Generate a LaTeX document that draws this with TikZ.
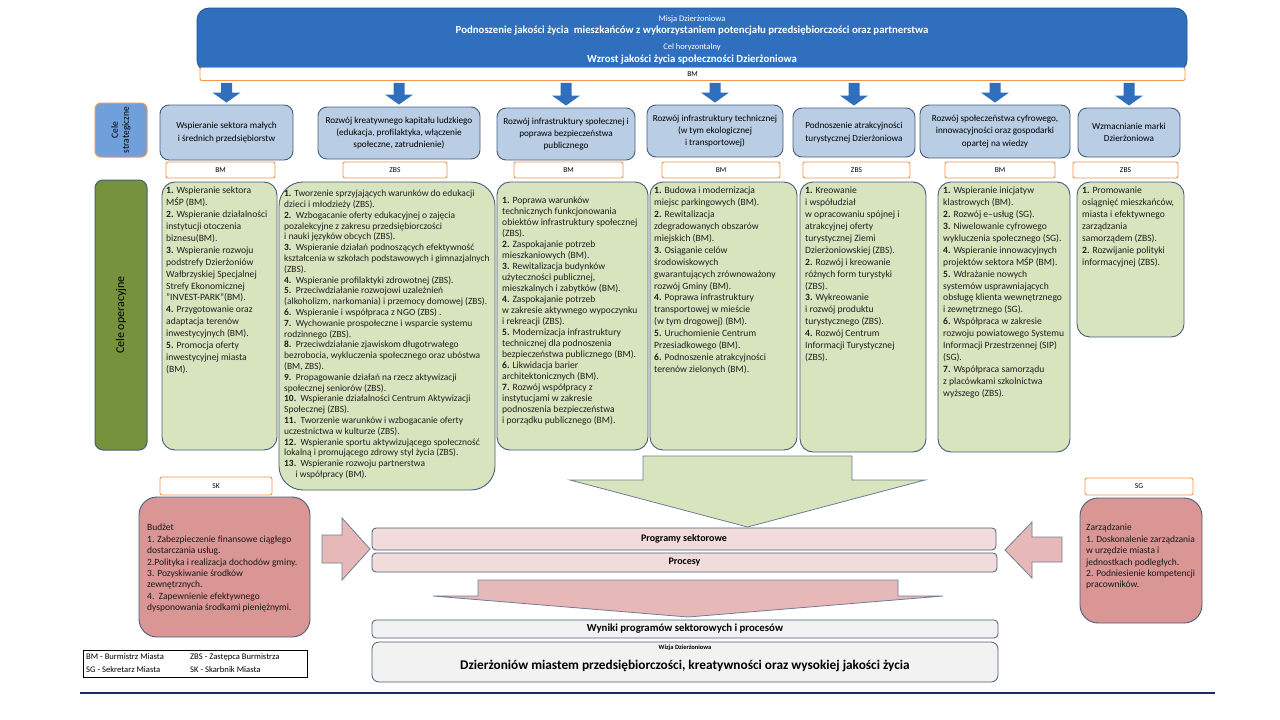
\documentclass[tikz,border=0pt]{standalone}
\usepackage{fontspec}
\setmainfont{Carlito}
\usetikzlibrary{positioning}

\definecolor{bannerblue}{RGB}{47,111,190}
\definecolor{stratfill}{RGB}{185,205,229}
\definecolor{boxline}{RGB}{72,94,122}
\definecolor{roleorange}{RGB}{247,150,70}
\definecolor{opfill}{RGB}{215,228,189}
\definecolor{celeblue}{RGB}{111,160,220}
\definecolor{celegreen}{RGB}{118,146,60}
\definecolor{pinklight}{RGB}{242,220,219}
\definecolor{pinkarrow}{RGB}{230,185,184}
\definecolor{redfill}{RGB}{217,150,148}
\definecolor{greyfill}{RGB}{242,242,242}
\definecolor{navyline}{RGB}{31,40,105}

\def\nr#1{\textbf{#1}}

\begin{document}
\begin{tikzpicture}[x=1pt, y=-1pt,
  bannertxt/.style={text=white, inner sep=0pt},
  stratbox/.style={draw=boxline, fill=stratfill, rounded corners=9pt, line width=0.9pt, align=center, inner sep=2pt, font=\fontsize{9.2}{12.4}\selectfont},
  rolebox/.style={draw=roleorange, fill=white, rounded corners=2pt, line width=0.9pt, inner sep=0pt, font=\fontsize{7.5}{8}\selectfont},
  opbox/.style={draw=boxline, fill=opfill, rounded corners=13pt, line width=0.9pt, inner sep=0pt},
  optext/.style={anchor=north west, align=left, inner sep=0pt, text=black!88, font=\fontsize{9.6}{11.9}\selectfont},
  pinkbox/.style={draw=boxline, fill=pinklight, rounded corners=4pt, line width=0.8pt, inner sep=0pt, font=\bfseries\fontsize{10}{12}\selectfont},
  greybox/.style={draw=boxline, fill=greyfill, rounded corners=4pt, line width=0.8pt, inner sep=0pt},
  redbox/.style={draw=boxline, fill=redfill, rounded corners=18pt, line width=0.9pt, inner sep=0pt},
  redtext/.style={anchor=north west, align=left, inner sep=0pt, text=black!90, font=\fontsize{9.5}{11.4}\selectfont},
  legtext/.style={anchor=west, inner sep=0pt, font=\fontsize{8.6}{10}\selectfont},
  blockarrow/.style={draw=boxline!80, line width=0.8pt, line join=miter}
]
\useasboundingbox (0,0) rectangle (1280,720);
\fill[white] (0,0) rectangle (1280,720);

% misja
\node[draw=bannerblue!75!black, fill=bannerblue, rounded corners=12pt, line width=0.8pt, minimum width=990pt, minimum height=64pt, inner sep=0pt] (banner) at (692,40) {};
\node[bannertxt, font=\fontsize{8.5}{9}\selectfont] (misja) at (692,19) {Misja Dzierżoniowa};
\node[bannertxt, font=\bfseries\fontsize{10.8}{12}\selectfont] (misjatxt) at (692,31) {Podnoszenie jakości życia\ \ mieszkańców z wykorzystaniem potencjału przedsiębiorczości oraz partnerstwa};
\node[bannertxt, font=\fontsize{8.5}{9}\selectfont] (celh) at (692,47) {Cel horyzontalny};
\node[bannertxt, font=\bfseries\fontsize{10.8}{12}\selectfont] (celhtxt) at (692,60) {Wzrost jakości życia społeczności Dzierżoniowa};
\node[rolebox, minimum width=985pt, minimum height=13pt] (bm) at (692.5,74) {BM};

% cele strategiczne
\node[draw=roleorange, fill=celeblue, rounded corners=6pt, line width=1pt, minimum width=52pt, minimum height=54pt] (celestrat) at (121,130) {};
\node[rotate=90, align=center, inner sep=0pt, font=\fontsize{9.5}{11}\selectfont] (celestrattxt) at (celestrat.center) {Cele\\ strategiczne};

\node[stratbox, minimum width=133pt, minimum height=55pt] (s1) at (226.5,132.5) {Wspieranie sektora małych\\ i średnich przedsiębiorstw};
\node[stratbox, minimum width=162pt, minimum height=52pt] (s2) at (399,133) {Rozwój kreatywnego kapitału ludzkiego\\ (edukacja, profilaktyka, włączenie\\ społeczne, zatrudnienie)};
\node[stratbox, minimum width=138pt, minimum height=52pt] (s3) at (566,134) {Rozwój infrastruktury społecznej i\\ poprawa bezpieczeństwa\\ publicznego};
\node[stratbox, minimum width=136pt, minimum height=52pt] (s4) at (715,131) {Rozwój infrastruktury technicznej\\ (w tym ekologicznej\\ i transportowej)};
\node[stratbox, minimum width=122pt, minimum height=49pt] (s5) at (854,132.5) {Podnoszenie atrakcyjności\\ turystycznej Dzierżoniowa};
\node[stratbox, minimum width=150pt, minimum height=53pt] (s6) at (995,131.5) {Rozwój społeczeństwa cyfrowego,\\ innowacyjności oraz gospodarki\\ opartej na wiedzy};
\node[stratbox, minimum width=102pt, minimum height=49pt] (s7) at (1129,132.5) {Wzmacnianie marki\\ Dzierżoniowa};

% strzalki
\foreach \n in {1,...,7}{
  \coordinate (a\n) at (s\n.north |- bm.south);
  \fill[bannerblue] ([xshift=-5.5pt,yshift=-2pt]a\n) -- ([xshift=5.5pt,yshift=-2pt]a\n) -- ([xshift=5.5pt,yshift=12pt]s\n.north) -- ([xshift=14pt,yshift=12pt]s\n.north) -- ([yshift=2pt]s\n.north) -- ([xshift=-14pt,yshift=12pt]s\n.north) -- ([xshift=-5.5pt,yshift=12pt]s\n.north) -- cycle;
}

% odpowiedzialni
\node[rolebox, minimum width=109pt, minimum height=16pt] (r1) at (220.5,170) {BM};
\node[rolebox, minimum width=104pt, minimum height=16pt] (r2) at (395,170) {ZBS};
\node[rolebox, minimum width=109pt, minimum height=16pt] (r3) at (568.5,170) {BM};
\node[rolebox, minimum width=118pt, minimum height=16pt] (r4) at (721,170) {BM};
\node[rolebox, minimum width=107pt, minimum height=16pt] (r5) at (856.5,170) {ZBS};
\node[rolebox, minimum width=110pt, minimum height=16pt] (r6) at (1000,170) {BM};
\node[rolebox, minimum width=105pt, minimum height=16pt] (r7) at (1125.5,170) {ZBS};

% cele operacyjne
\node[draw=boxline, fill=celegreen, rounded corners=8pt, line width=1pt, minimum width=52pt, minimum height=270pt] (celeoper) at (121,315) {};
\node[rotate=90, inner sep=0pt, font=\fontsize{12}{14}\selectfont] (celeopertxt) at (celeoper.center) {Cele operacyjne};

\node[opbox, minimum width=115pt, minimum height=268pt] (o1) at (219.5,316) {};
\node[opbox, minimum width=216pt, minimum height=308pt, rounded corners=24pt] (o2) at (387,336) {};
\node[opbox, minimum width=151pt, minimum height=268pt] (o3) at (572.5,316) {};
\node[opbox, minimum width=147pt, minimum height=268pt] (o4) at (723.5,316) {};
\node[opbox, minimum width=126pt, minimum height=270pt] (o5) at (863,317) {};
\node[opbox, minimum width=132pt, minimum height=270pt] (o6) at (1004,317) {};
\node[opbox, minimum width=107pt, minimum height=155pt] (o7) at (1130.5,259.5) {};

\node[optext] (o1t) at (166,187) {\nr{1.} Wspieranie sektora\\ MŚP (BM).\\ \nr{2.} Wspieranie działalności\\ instytucji otoczenia\\ biznesu(BM).\\ \nr{3.} Wspieranie rozwoju\\ podstrefy Dzierżoniów\\ Wałbrzyskiej Specjalnej\\ Strefy Ekonomicznej\\ "INVEST-PARK"(BM).\\ \nr{4.} Przygotowanie oraz\\ adaptacja terenów\\ inwestycyjnych (BM).\\ \nr{5.} Promocja oferty\\ inwestycyjnej miasta\\ (BM).};

\node[optext, font=\fontsize{9.45}{10.8}\selectfont] (o2t) at (284,190) {\nr{1.} Tworzenie sprzyjających warunków do edukacji\\ dzieci i młodzieży (ZBS).\\ \nr{2.}\ \ Wzbogacanie oferty edukacyjnej o zajęcia\\ pozalekcyjne z zakresu przedsiębiorczości\\ i nauki języków obcych (ZBS).\\ \nr{3.}\ \ Wspieranie działań podnoszących efektywność\\ kształcenia w szkołach podstawowych i gimnazjalnych\\ (ZBS).\\ \nr{4.}\ \ Wspieranie profilaktyki zdrowotnej (ZBS).\\ \nr{5.}\ \ Przeciwdziałanie rozwojowi uzależnień\\ (alkoholizm, narkomania) i przemocy domowej (ZBS).\\ \nr{6.}\ \ Wspieranie i współpraca z NGO (ZBS) .\\ \nr{7.}\ \ Wychowanie prospołeczne i wsparcie systemu\\ rodzinnego (ZBS).\\ \nr{8.}\ \ Przeciwdziałanie zjawiskom długotrwałego\\ bezrobocia, wykluczenia społecznego oraz ubóstwa\\ (BM, ZBS).\\ \nr{9.}\ \ Propagowanie działań na rzecz aktywizacji\\ społecznej seniorów (ZBS).\\ \nr{10.}\ \ Wspieranie działalności Centrum Aktywizacji\\ Społecznej (ZBS).\\ \nr{11.}\ \ Tworzenie warunków i wzbogacanie oferty\\ uczestnictwa w kulturze (ZBS).\\ \nr{12.}\ \ Wspieranie sportu aktywizującego społeczność\\ lokalną i promującego zdrowy styl życia (ZBS).\\ \nr{13.}\ \ Wspieranie rozwoju partnerstwa\\ \hspace*{1.2em}i współpracy (BM).};

\node[optext, font=\fontsize{9.6}{11}\selectfont] (o3t) at (502,197) {\nr{1.} Poprawa warunków\\ technicznych funkcjonowania\\ obiektów infrastruktury społecznej\\ (ZBS).\\ \nr{2.} Zaspokajanie potrzeb\\ mieszkaniowych (BM).\\ \nr{3.} Rewitalizacja budynków\\ użyteczności publicznej,\\ mieszkalnych i zabytków (BM).\\ \nr{4.} Zaspokajanie potrzeb\\ w zakresie aktywnego wypoczynku\\ i rekreacji (ZBS).\\ \nr{5.} Modernizacja infrastruktury\\ technicznej dla podnoszenia\\ bezpieczeństwa publicznego (BM).\\ \nr{6.} Likwidacja barier\\ architektonicznych (BM).\\ \nr{7.} Rozwój współpracy z\\ instytucjami w zakresie\\ podnoszenia bezpieczeństwa\\ i porządku publicznego (BM).};

\node[optext] (o4t) at (654,187) {\nr{1.} Budowa i modernizacja\\ miejsc parkingowych (BM).\\ \nr{2.} Rewitalizacja\\ zdegradowanych obszarów\\ miejskich (BM).\\ \nr{3.} Osiąganie celów\\ środowiskowych\\ gwarantujących zrównoważony\\ rozwój Gminy (BM).\\ \nr{4.} Poprawa infrastruktury\\ transportowej w mieście\\ (w tym drogowej) (BM).\\ \nr{5.} Uruchomienie Centrum\\ Przesiadkowego (BM).\\ \nr{6.} Podnoszenie atrakcyjności\\ terenów zielonych (BM).};

\node[optext] (o5t) at (805,187) {\nr{1.} Kreowanie\\ i współudział\\ w opracowaniu spójnej i\\ atrakcyjnej oferty\\ turystycznej Ziemi\\ Dzierżoniowskiej (ZBS).\\ \nr{2.} Rozwój i kreowanie\\ różnych form turystyki\\ (ZBS).\\ \nr{3.} Wykreowanie\\ i rozwój produktu\\ turystycznego (ZBS).\\ \nr{4.} Rozwój Centrum\\ Informacji Turystycznej\\ (ZBS).};

\node[optext] (o6t) at (943,187) {\nr{1.} Wspieranie inicjatyw\\ klastrowych (BM).\\ \nr{2.} Rozwój e–usług (SG).\\ \nr{3.} Niwelowanie cyfrowego\\ wykluczenia społecznego (SG).\\ \nr{4.} Wspieranie innowacyjnych\\ projektów sektora MŚP (BM).\\ \nr{5.} Wdrażanie nowych\\ systemów usprawniających\\ obsługę klienta wewnętrznego\\ i zewnętrznego (SG).\\ \nr{6.} Współpraca w zakresie\\ rozwoju powiatowego Systemu\\ Informacji Przestrzennej (SIP)\\ (SG).\\ \nr{7.} Współpraca samorządu\\ z placówkami szkolnictwa\\ wyższego (ZBS).};

\node[optext] (o7t) at (1082,187) {\nr{1.} Promowanie\\ osiągnięć mieszkańców,\\ miasta i efektywnego\\ zarządzania\\ samorządem (ZBS).\\ \nr{2.} Rozwijanie polityki\\ informacyjnej (ZBS).};

% dol
\draw[blockarrow, fill=opfill] (643,456) -- (852,456) -- (852,480) -- (925,480) -- (747.5,527) -- (570,480) -- (643,480) -- cycle;

\node[pinkbox, minimum width=624pt, minimum height=22pt] (programy) at (684,539) {Programy sektorowe};
\node[pinkbox, minimum width=625pt, minimum height=19pt] (procesy) at (684.5,562.5) {Procesy};

\draw[blockarrow, fill=pinkarrow] (478,580) -- (898,580) -- (898,596) -- (943,596) -- (688,617) -- (433,596) -- (478,596) -- cycle;

\node[greybox, minimum width=626pt, minimum height=18pt, font=\bfseries\fontsize{10.8}{12}\selectfont] (wyniki) at (685,629) {Wyniki programów sektorowych i procesów};
\node[greybox, minimum width=626pt, minimum height=40pt, rounded corners=7pt] (wizja) at (685,662) {};
\node[inner sep=0pt, font=\bfseries\fontsize{6.5}{7}\selectfont] (wizjahead) at (685,648) {Wizja Dzierżoniowa};
\node[inner sep=0pt, font=\bfseries\fontsize{13.3}{15}\selectfont] (wizjatxt) at (685,666) {Dzierżoniów miastem przedsiębiorczości, kreatywności oraz wysokiej jakości życia};

% budzet
\node[rolebox, minimum width=112pt, minimum height=18pt] (sk) at (216,486) {SK};
\node[redbox, minimum width=171pt, minimum height=140pt] (budzet) at (224.5,567) {};
\node[redtext] (budzettxt) at (147,524) {Budżet\\ 1. Zabezpieczenie finansowe ciągłego\\ dostarczania usług.\\ 2.Polityka i realizacja dochodów gminy.\\ 3. Pozyskiwanie środków\\ zewnętrznych.\\ 4.\ \ Zapewnienie efektywnego\\ dysponowania środkami pieniężnymi.};
\draw[blockarrow, fill=pinkarrow] (322,535) -- (342,535) -- (342,518) -- (370,549) -- (342,580) -- (342,563) -- (322,563) -- cycle;

% zarzadzanie
\node[rolebox, minimum width=108pt, minimum height=17pt] (sg) at (1139,486.5) {SG};
\node[redbox, minimum width=122pt, minimum height=125pt] (zarz) at (1141,560.5) {};
\node[redtext] (zarztxt) at (1086,524) {Zarządzanie\\ 1. Doskonalenie zarządzania\\ w urzędzie miasta i\\ jednostkach podległych.\\ 2. Podniesienie kompetencji\\ pracowników.};
\draw[blockarrow, fill=pinkarrow] (1062,537) -- (1032,537) -- (1032,522) -- (1005,550) -- (1032,578) -- (1032,562) -- (1062,562) -- cycle;

% legenda
\node[draw=black, line width=0.6pt, minimum width=224pt, minimum height=27pt, inner sep=0pt] (legenda) at (195,663.5) {};
\node[legtext] (lbm) at (86,657) {BM - Burmistrz Miasta};
\node[legtext] (lsg) at (86,670) {SG - Sekretarz Miasta};
\node[legtext] (lzbs) at (190,657) {ZBS - Zastępca Burmistrza};
\node[legtext] (lsk) at (190,670) {SK - Skarbnik Miasta};

\draw[navyline, line width=2pt] (80,693) -- (1215,693);
\end{tikzpicture}
\end{document}
